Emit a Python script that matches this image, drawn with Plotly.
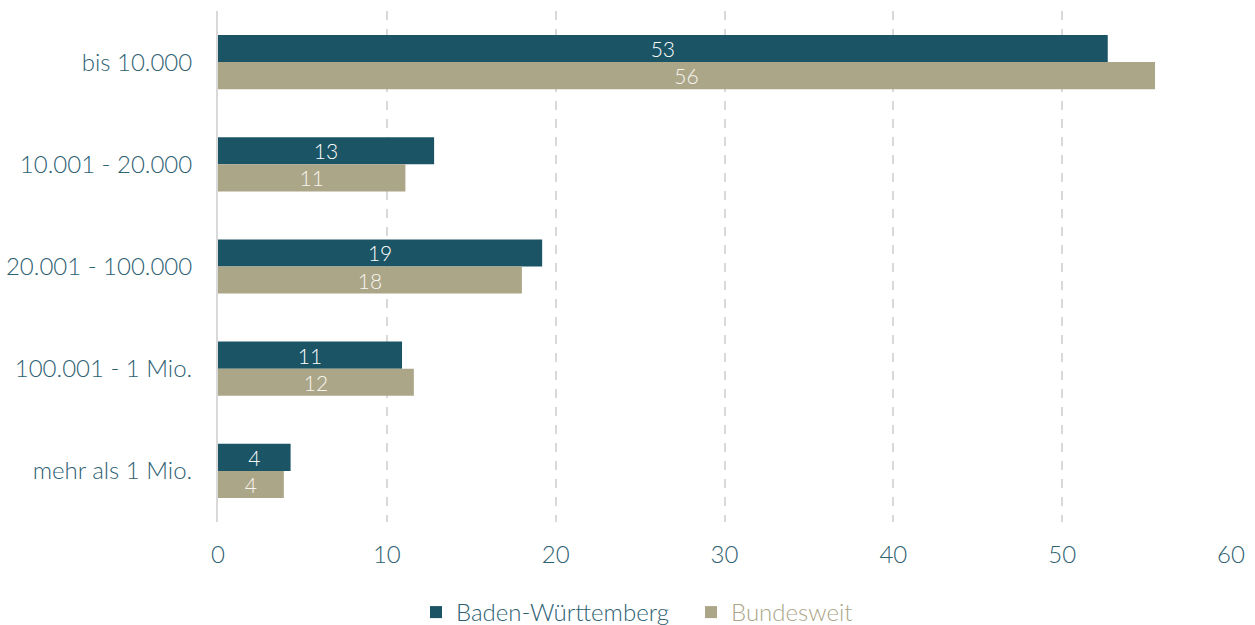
import plotly.graph_objects as go

# Gemeindegrößenklassen (Einwohner)
categories = ["bis 10.000", "10.001 - 20.000", "20.001 - 100.000", "100.001 - 1 Mio.", "mehr als 1 Mio."]
baden_wuerttemberg = [52.7, 12.8, 19.2, 10.9, 4.3]
bundesweit = [55.5, 11.1, 18.0, 11.6, 3.9]
x_ticks = [0, 10, 20, 30, 40, 50, 60]

TEAL = "#1b5465"
TAN = "#aca689"
LABEL = "#2e6172"
GRID = "#d9d9d9"
FONT = "Lato"

fig = go.Figure()
fig.add_trace(go.Bar(
    y=categories, x=baden_wuerttemberg, orientation="h", name="Baden-Württemberg",
    marker=dict(color=TEAL, line=dict(width=0)),
    texttemplate="%{x:.0f}", textposition="inside", insidetextanchor="middle",
    textangle=0, constraintext="none",
    textfont=dict(color="#ffffff", size=21, family=FONT, weight=300),
    hoverinfo="skip",
))
fig.add_trace(go.Bar(
    y=categories, x=bundesweit, orientation="h",
    name=f"<span style='color:{TAN}'>Bundesweit</span>",
    marker=dict(color=TAN, line=dict(width=0)),
    texttemplate="%{x:.0f}", textposition="inside", insidetextanchor="middle",
    textangle=0, constraintext="none",
    textfont=dict(color="#f7f5ee", size=21, family=FONT, weight=300),
    hoverinfo="skip",
))

fig.update_layout(
    width=1255, height=625,
    margin=dict(l=218, r=24, t=11, b=103, autoexpand=False),
    paper_bgcolor="white", plot_bgcolor="white",
    barmode="group", bargap=0.47, bargroupgap=0,
    font=dict(family=FONT, color=LABEL, size=24, weight=300),
    showlegend=True,
    legend=dict(
        orientation="h", x=416 / 1255, xanchor="left", xref="container",
        y=0.02, yanchor="middle", yref="container",
        font=dict(size=24, color=LABEL, family=FONT, weight=300),
        traceorder="normal", itemwidth=30,
        entrywidth=230, entrywidthmode="pixels",
    ),
    uniformtext=dict(mode="show", minsize=10),
)
fig.update_xaxes(
    range=[0, 60], tickvals=x_ticks, ticktext=[str(v) for v in x_ticks],
    showgrid=True, gridcolor=GRID, griddash="dash", gridwidth=1.5,
    zeroline=False, showline=False, ticks="", automargin=False,
    tickfont=dict(size=24, color=LABEL, family=FONT, weight=300),
    ticklabelstandoff=16,
)
fig.update_yaxes(
    autorange="reversed", showgrid=False, zeroline=False,
    showline=True, linecolor=GRID, linewidth=2, ticks="", automargin=False,
    tickfont=dict(size=24, color=LABEL, family=FONT, weight=300),
    ticklabelstandoff=19,
)

fig.write_html("out.html")
